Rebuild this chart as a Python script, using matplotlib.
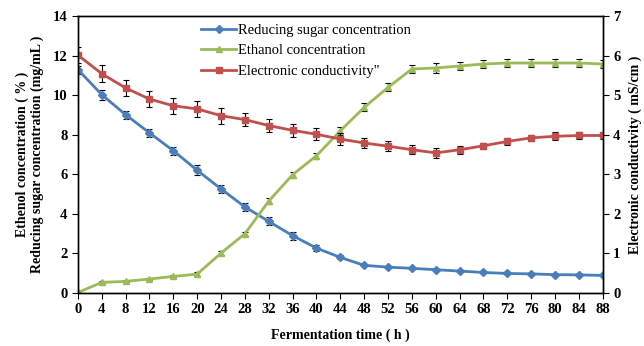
import matplotlib
matplotlib.use("Agg")
import matplotlib.pyplot as plt
from matplotlib.lines import Line2D

plt.rcParams['font.family'] = ['Liberation Serif', 'DejaVu Serif']

# data
time_h = [0, 4, 8, 12, 16, 20, 24, 28, 32, 36, 40, 44, 48, 52, 56, 60, 64, 68, 72, 76, 80, 84, 88]
sugar = [11.29, 10.02, 9.01, 8.09, 7.19, 6.20, 5.26, 4.35, 3.62, 2.90, 2.27, 1.80, 1.40, 1.31,
         1.25, 1.18, 1.11, 1.04, 0.99, 0.97, 0.93, 0.92, 0.89]
sugar_err = [0.2, 0.25, 0.2, 0.2, 0.2, 0.25, 0.2, 0.2, 0.2, 0.2, 0.15, 0.1, 0.05, 0.05,
             0.05, 0.05, 0.05, 0.05, 0.05, 0.05, 0.05, 0.05, 0.05]
ethanol = [0.03, 0.54, 0.59, 0.71, 0.84, 0.96, 2.02, 3.00, 4.65, 5.98, 6.94, 8.20, 9.38, 10.39,
           11.32, 11.37, 11.47, 11.57, 11.62, 11.62, 11.62, 11.62, 11.57]
ethanol_err = [0.02, 0.05, 0.05, 0.05, 0.05, 0.1, 0.1, 0.1, 0.15, 0.15, 0.15, 0.2, 0.2, 0.2,
               0.2, 0.25, 0.2, 0.2, 0.2, 0.2, 0.2, 0.2, 0.2]
conductivity = [6.01, 5.54, 5.18, 4.90, 4.73, 4.65, 4.48, 4.38, 4.23, 4.11, 4.01, 3.89, 3.79, 3.71,
                3.62, 3.54, 3.62, 3.72, 3.83, 3.92, 3.96, 3.98, 3.98]
cond_err = [0.2, 0.22, 0.2, 0.2, 0.2, 0.2, 0.2, 0.17, 0.17, 0.17, 0.15, 0.15, 0.13, 0.13,
            0.12, 0.12, 0.1, 0.08, 0.08, 0.08, 0.1, 0.1, 0.08]
labels = ['Reducing sugar concentration', 'Ethanol concentration', 'Electronic conductivity"']

blue = '#4a7ebb'
green = '#9bbb59'
red = '#c0504d'

fig = plt.figure(figsize=(6.44, 3.46), dpi=100)
ax = fig.add_axes([0.121, 0.153, 0.815, 0.801])
ax2 = ax.twinx()

eb = dict(ecolor='black', elinewidth=0.8, capsize=2.5, capthick=0.8)
ax.errorbar(time_h, sugar, yerr=sugar_err, color=blue, lw=2, marker='D', ms=4, **eb)
ax.errorbar(time_h, ethanol, yerr=ethanol_err, color=green, lw=2, marker='^', ms=5, **eb)
ax2.errorbar(time_h, conductivity, yerr=cond_err, color=red, lw=2, marker='s', ms=5, **eb)

ax.set_xlim(0, 88)
ax.set_ylim(0, 14)
ax2.set_ylim(0, 7)
ax.set_xticks(time_h)
ax.set_yticks(range(0, 15, 2))
ax2.set_yticks(range(0, 8))

for a in (ax, ax2):
    a.tick_params(direction='out', length=4, width=0.8, labelsize=10.5)
    for lab in a.get_xticklabels() + a.get_yticklabels():
        lab.set_fontweight('bold')
    for sp in a.spines.values():
        sp.set_linewidth(1.0)

ax.set_xlabel('Fermentation time ( h )', fontsize=10, fontweight='bold', labelpad=9)
ax.set_ylabel('Ethenol concentration ( % )\nReducing sugar concentration (mg/mL )',
              fontsize=10, fontweight='bold', labelpad=6)
ax2.set_ylabel('Electronic conductivity ( mS/cm )', fontsize=10, fontweight='bold', labelpad=6)

handles = [Line2D([], [], color=blue, lw=2, marker='D', ms=4),
           Line2D([], [], color=green, lw=2, marker='^', ms=5),
           Line2D([], [], color=red, lw=2, marker='s', ms=5)]
ax.legend(handles, labels, loc='upper left', bbox_to_anchor=(0.21, 1.02), frameon=False,
          fontsize=10.5, handlelength=2.4, handletextpad=0.1, labelspacing=0.5)

fig.savefig('out.png', dpi=100)
